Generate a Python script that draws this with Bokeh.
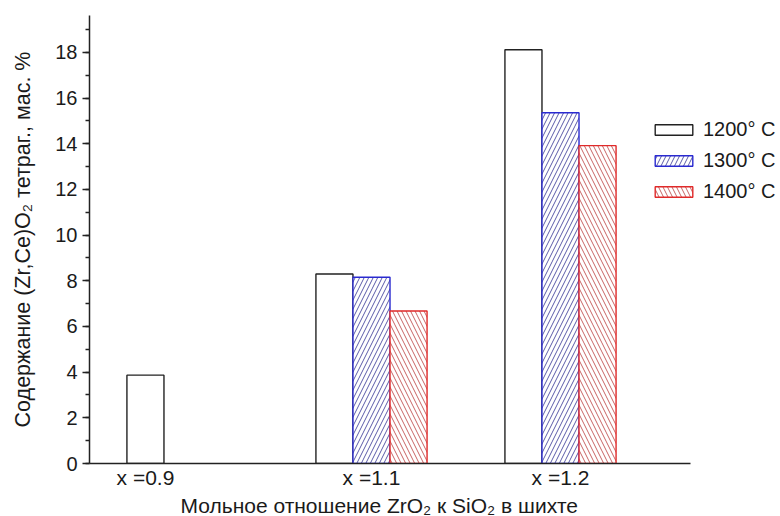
from bokeh.plotting import figure
from bokeh.models import Range1d, FixedTicker, SingleIntervalTicker, Legend, LegendItem, ColumnDataSource, Title
from bokeh.embed import file_html
from bokeh.resources import INLINE

groups = ["x =0.9", "x =1.1", "x =1.2"]
group_pos = [1, 2, 3]
series_names = ["1200° C", "1300° C", "1400° C"]
t1200 = [3.87, 8.30, 18.12]
t1300 = [None, 8.16, 15.36]
t1400 = [None, 6.68, 13.92]
y_ticks_interval = 2

FONT = "Liberation Sans"
TXT = "#1a1a1a"

bar_w = 0.196
offsets = [-bar_w, 0.0, bar_w]
styles = [
    dict(fill_color="white", line_color="#222222", line_width=1.4),
    dict(fill_color="white", line_color="#2a2ad0", line_width=1.4,
         hatch_pattern="right_diagonal_line", hatch_color="#5a5aa8", hatch_scale=9, hatch_weight=1.0),
    dict(fill_color="white", line_color="#e02a2a", line_width=1.4,
         hatch_pattern="left_diagonal_line", hatch_color="#c86464", hatch_scale=9, hatch_weight=1.0),
]

x_start, x_axis_end, x_view_end = 0.508, 3.688, 4.164
p = figure(width=780, height=516, output_backend="svg", toolbar_location=None,
           x_range=Range1d(x_start, x_view_end), y_range=Range1d(0, 19.62),
           min_border_left=89, min_border_right=0, min_border_top=15, min_border_bottom=52)
p.outline_line_color = None
p.xgrid.visible = False
p.ygrid.visible = False

items = []
all_series = [t1200, t1300, t1400]
for name, vals, off, st in zip(series_names, all_series, offsets, styles):
    xs = [g + off for g, v in zip(group_pos, vals) if v is not None]
    ts = [v for v in vals if v is not None]
    src = ColumnDataSource(dict(x=xs, top=ts))
    r = p.vbar(x="x", top="top", width=bar_w, bottom=0, source=src, **st)
    items.append(LegendItem(label=name, renderers=[r]))

# tick label under the centre of the bars actually drawn in each group
tick_pos = []
for i, g in enumerate(group_pos):
    present = [g + off for vals, off in zip(all_series, offsets) if vals[i] is not None]
    tick_pos.append(sum(present) / len(present))

xa = p.xaxis[0]
xa.bounds = (x_start, x_axis_end)
xa.ticker = FixedTicker(ticks=tick_pos)
xa.major_label_overrides = {t: lab for t, lab in zip(tick_pos, groups)}
xa.major_tick_out = 0
xa.major_tick_in = 0
xa.minor_tick_out = 0
xa.minor_tick_in = 0
xa.axis_line_width = 1.5
xa.axis_line_color = "#222222"
xa.major_label_text_font = FONT
xa.major_label_text_font_size = "21px"
xa.major_label_text_color = TXT
xa.major_label_standoff = 2

xtitle = Title(text="Мольное отношение ZrO₂ к SiO₂ в шихте", align="left", offset=91,
               text_font=FONT, text_font_size="21px", text_font_style="normal",
               text_color=TXT, standoff=0)
p.add_layout(xtitle, "below")

ya = p.yaxis[0]
ya.ticker = SingleIntervalTicker(interval=y_ticks_interval, num_minor_ticks=2)
ya.major_tick_out = 7
ya.major_tick_in = 0
ya.minor_tick_out = 4
ya.minor_tick_in = 0
ya.major_tick_line_width = 1.5
ya.minor_tick_line_width = 1.5
ya.major_tick_line_color = "#222222"
ya.minor_tick_line_color = "#222222"
ya.axis_line_width = 1.5
ya.axis_line_color = "#222222"
ya.major_label_text_font = FONT
ya.major_label_text_font_size = "20px"
ya.major_label_text_color = TXT
ya.major_label_standoff = 5
ya.axis_label = "Содержание (Zr,Ce)O₂ тетраг., мас. %"
ya.axis_label_text_font = FONT
ya.axis_label_text_font_size = "21.5px"
ya.axis_label_text_font_style = "normal"
ya.axis_label_text_color = TXT
ya.axis_label_standoff = 17

legend = Legend(items=items, location=(561, 260), padding=0, margin=0,
                border_line_alpha=0, background_fill_alpha=0,
                glyph_width=47, glyph_height=13, spacing=8, label_standoff=6,
                label_text_font=FONT, label_text_font_size="20px", label_text_color=TXT)
p.add_layout(legend, "center")

open("out.html", "w").write(file_html(p, INLINE))
